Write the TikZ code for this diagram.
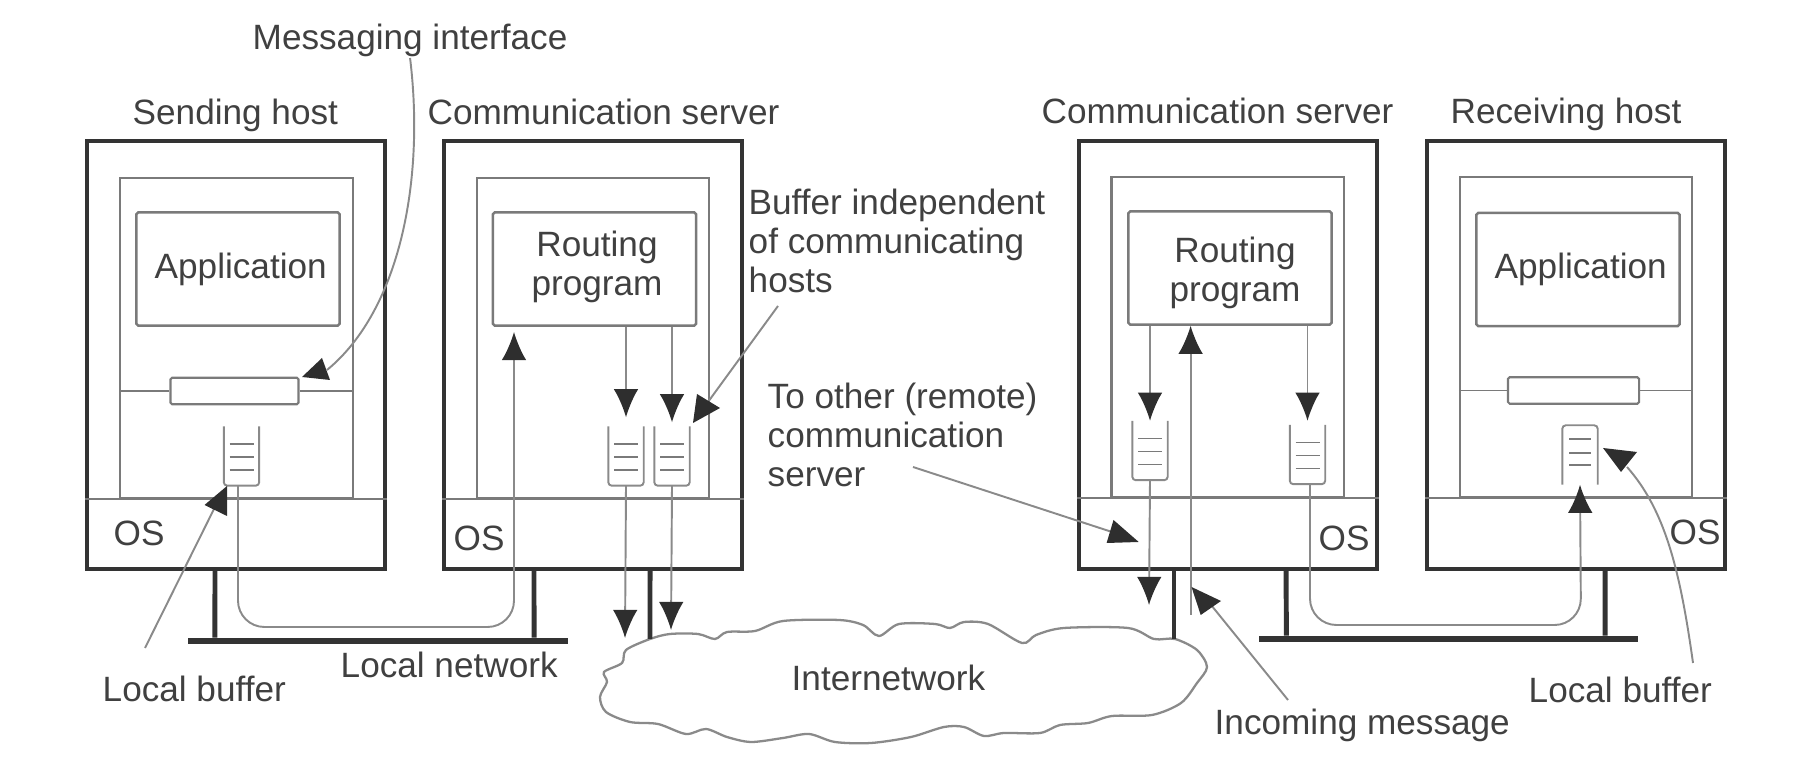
\documentclass[tikz,border=0pt]{standalone}
\usepackage{fontspec}
\setmainfont{Liberation Sans}
\usetikzlibrary{arrows.meta}

\definecolor{framec}{HTML}{333333}
\definecolor{linec}{HTML}{8A8A8A}
\definecolor{boxc}{HTML}{7A7A7A}
\definecolor{headc}{HTML}{2E2E2E}
\definecolor{textc}{HTML}{404040}

% buffer with open top, center at (x,y)
\newcommand{\bufferup}[3]{
    \node[bufnode] (#1) at (#2,#3) {};
    \draw[link,rounded corners=1pt] (#1.north west) -- (#1.south west) -- (#1.south east) -- (#1.north east);
    \foreach \dy in {-12,1,14} \draw[link,draw=boxc] ({#2-12},{#3+\dy}) -- ({#2+12},{#3+\dy});
}
% same, open at the bottom
\newcommand{\bufferdown}[3]{
    \node[bufnode] (#1) at (#2,#3) {};
    \draw[link,rounded corners=1pt] (#1.south west) -- (#1.north west) -- (#1.north east) -- (#1.south east);
    \foreach \dy in {-16,-2,10} \draw[link,draw=boxc] ({#2-11},{#3+\dy}) -- ({#2+11},{#3+\dy});
}

\begin{document}
\begin{tikzpicture}[x=0.01cm,y=-0.01cm]
    \tikzset{label/.style = {anchor=base west,inner sep=0,text=textc,font=\fontsize{10}{11.1}\selectfont}}
    \tikzset{hostbox/.style = {shape=rectangle,draw=framec,line width=1.1pt,minimum width=2.98cm,minimum height=4.28cm,inner sep=0}}
    \tikzset{inner/.style = {shape=rectangle,draw=boxc,line width=0.6pt,minimum width=2.32cm,minimum height=3.2cm,inner sep=0}}
    \tikzset{prog/.style = {shape=rectangle,draw=boxc,line width=0.7pt,minimum width=2.03cm,minimum height=1.13cm,inner sep=0,rounded corners=0.5pt}}
    \tikzset{iface/.style = {shape=rectangle,draw=boxc,line width=0.6pt,minimum height=0.265cm,inner sep=0,rounded corners=0.5pt}}
    \tikzset{bufnode/.style = {shape=rectangle,draw=none,minimum width=0.34cm,minimum height=0.58cm,inner sep=0}}
    \tikzset{busnode/.style = {shape=rectangle,fill=framec,minimum height=0.055cm,inner sep=0}}
    \tikzset{stem/.style = {draw=framec,line width=1.4pt}}
    \tikzset{link/.style = {draw=linec,line width=0.55pt}}
    \tikzset{flow/.style = {link,-{Latex[length=8pt,width=7pt,color=headc]}}}
    \tikzset{headfill/.style = {fill=headc}}
    \useasboundingbox (0,0) rectangle (1800,774);

    % hosts and servers
    \node[hostbox] (sendhost) at (236,355) {};
    \node[hostbox] (server1) at (593,355) {};
    \node[hostbox] (server2) at (1228,355) {};
    \node[hostbox] (recvhost) at (1576,355) {};

    \node[inner] (inner1) at (236.5,338) {};
    \node[inner] (inner2) at (593,338) {};
    \node[inner] (inner3) at (1227.5,337) {};
    \node[inner] (inner4) at (1576,337) {};

    \draw[link,draw=boxc] (sendhost.west |- inner1.south) -- (sendhost.east |- inner1.south);
    \draw[link,draw=boxc] (server1.west |- inner2.south) -- (server1.east |- inner2.south);
    \draw[link,draw=boxc] (server2.west |- inner3.south) -- (server2.east |- inner3.south);
    \draw[link,draw=boxc] (recvhost.west |- inner4.south) -- (recvhost.east |- inner4.south);

    \node[prog] (app1) at (238,269) {};
    \node[prog] (routing1) at (594.5,269) {};
    \node[prog] (routing2) at (1230,268) {};
    \node[prog] (app2) at (1578,269.5) {};

    \node[iface,minimum width=1.28cm] (iface1) at (234.5,391) {};
    \node[iface,minimum width=1.31cm] (iface2) at (1573.5,390.5) {};
    \draw[link,draw=boxc] (inner1.west |- iface1) -- (iface1.west);
    \draw[link,draw=boxc] (iface1.east) -- (inner1.east |- iface1);
    \draw[link,draw=boxc] (inner4.west |- iface2) -- (iface2.west);
    \draw[link,draw=boxc] (iface2.east) -- (inner4.east |- iface2);

    % buffers
    \bufferup{buf1}{241.5}{456}
    \bufferup{buf2}{626}{456}
    \bufferup{buf3}{672}{456}
    \bufferup{buf4}{1150}{450.5}
    \bufferup{buf5}{1307.5}{454.5}
    \bufferdown{buf6}{1580}{455}

    % local networks
    \node[busnode,minimum width=3.8cm] (lan1) at (378,641) {};
    \node[busnode,minimum width=3.79cm] (lan2) at (1448.5,639) {};
    \draw[stem] ([xshift=-0.21cm]sendhost.south) -- ([xshift=-1.63cm]lan1.north);
    \draw[stem] ([xshift=-0.59cm]server1.south) -- ([xshift=1.56cm]lan1.north);
    \draw[stem] ([xshift=0.58cm]server2.south) -- ([xshift=-1.62cm]lan2.north);
    \draw[stem] ([xshift=0.29cm]recvhost.south) -- ([xshift=1.565cm]lan2.north);

    % internetwork
    \draw[link,line width=0.65pt] plot[smooth cycle,tension=0.5] coordinates {
        (650,639) (670,634) (698,634) (715,639) (727,632) (755,631) (783,621)
        (839,620) (863,625) (879,636) (899,624) (935,624) (950,628) (964,622)
        (988,624) (1022,643) (1036,635) (1064,628) (1128,628) (1154,639) (1175,639)
        (1197,650) (1207,667) (1197,683) (1181,703) (1152,715) (1112,716) (1088,723)
        (1060,725) (1040,733) (1004,733) (984,736) (964,727) (944,727) (911,737)
        (871,743) (835,742) (809,734) (783,738) (751,742) (727,737) (706,729)
        (686,734) (658,724) (630,722) (606,712) (600,697) (607,682) (604,672)
        (622,663) (626,650)};
    \coordinate (cloudtop1) at (650,639);
    \coordinate (cloudtop2) at (1174,639);
    \draw[stem] ([xshift=0.57cm]server1.south) -- (cloudtop1);
    \draw[stem] (server2.south -| cloudtop2) -- (cloudtop2);

    % message path
    \coordinate (bend1) at (514,627);
    \coordinate (tip1) at (514,332);
    \coordinate (bend2) at (1581,625);
    \coordinate (out1) at (625,638);
    \coordinate (out2) at (671,630);
    \coordinate (out3) at (1149,605);
    \coordinate (in1) at (1190.6,615);
    \draw[flow,rounded corners=7.5pt] ([xshift=-0.035cm]buf1.south) |- (bend1) -- (tip1);
    \draw[flow] (routing1.south -| buf2) -- ([yshift=0.09cm]buf2.north);
    \draw[flow] (routing1.south -| buf3) -- ([yshift=0.04cm]buf3.north);
    \draw[flow] (buf2.south) -- (out1);
    \draw[flow] (buf3.south) -- (out2);
    \draw[flow] (routing2.south -| buf4) -- (buf4.north);
    \draw[flow] (routing2.south -| buf5) -- ([yshift=0.04cm]buf5.north);
    \draw[flow] (buf4.south) -- (out3);
    \draw[flow] (in1) -- (routing2.south -| in1);
    \draw[flow,rounded corners=7.5pt] ([xshift=0.025cm]buf5.south) |- (bend2) -- (buf6.south);

    % labels
    \node[label] (msglabel) at (252,50) {Messaging interface};
    \node[label] (sendlabel) at (132,125) {Sending host};
    \node[label] (srvlabel1) at (427,125) {Communication server};
    \node[label] (srvlabel2) at (1041,124) {Communication server};
    \node[label] (recvlabel) at (1450,124) {Receiving host};
    \node[label] (apptext1) at (154,279) {Application};
    \node[label] (apptext2) at (1494,279) {Application};
    \node[label,anchor=base,align=center] (routetext1) at (597,296) {Routing\\program};
    \node[label,anchor=base,align=center] (routetext2) at (1235,302) {Routing\\program};
    \node[label] (os1) at (113,546) {OS};
    \node[label] (os2) at (453,551) {OS};
    \node[label] (os3) at (1318,551) {OS};
    \node[label] (os4) at (1669,545) {OS};
    \node[label,align=left] (buflabel) at (748,293) {Buffer independent\\of communicating\\hosts};
    \node[label,align=left] (remotelabel) at (767,487) {To other (remote)\\communication\\server};
    \node[label] (lbuflabel1) at (102,702) {Local buffer};
    \node[label] (lanlabel) at (340,678) {Local network};
    \node[label] (netlabel) at (791,691) {Internetwork};
    \node[label] (inlabel) at (1214,735) {Incoming message};
    \node[label] (lbuflabel2) at (1528,703) {Local buffer};

    % notes
    \coordinate (msgend) at (327,370);
    \coordinate (lbufstart1) at (145,648);
    \coordinate (lbufend1) at (215,507);
    \coordinate (bufstart) at (778,306);
    \coordinate (bufend) at (708,402);
    \coordinate (remotestart) at (913,467);
    \coordinate (remoteend) at (1112,532);
    \coordinate (instart) at (1288,700);
    \coordinate (inend) at (1207,600);
    \coordinate (lbufstart2) at (1693,663);
    \coordinate (lbufend2) at (1627,467);
    \draw[link] (msglabel.south) .. controls (425,180) and (400,310) .. (msgend);
    \draw[link] (lbufstart1) -- (lbufend1);
    \draw[link] (bufstart) -- (bufend);
    \draw[link] (remotestart) -- (remoteend);
    \draw[link] (instart) -- (inend);
    \draw[link] (lbufstart2) .. controls (1680,570) and (1665,510) .. (lbufend2);

    \fill[headfill] (302,377) -- (322,358) -- (330,380) -- cycle;
    \fill[headfill] (227,486) -- (204.5,505) -- (227,516) -- cycle;
    \fill[headfill] (697,394) -- (720,408) -- (693,423) -- cycle;
    \fill[headfill] (1113.5,520) -- (1138.7,542) -- (1106.6,543) -- cycle;
    \fill[headfill] (1191.5,587) -- (1221,601) -- (1200.7,615) -- cycle;
    \fill[headfill] (1603,448) -- (1637,452) -- (1621,472) -- cycle;
\end{tikzpicture}
\end{document}
